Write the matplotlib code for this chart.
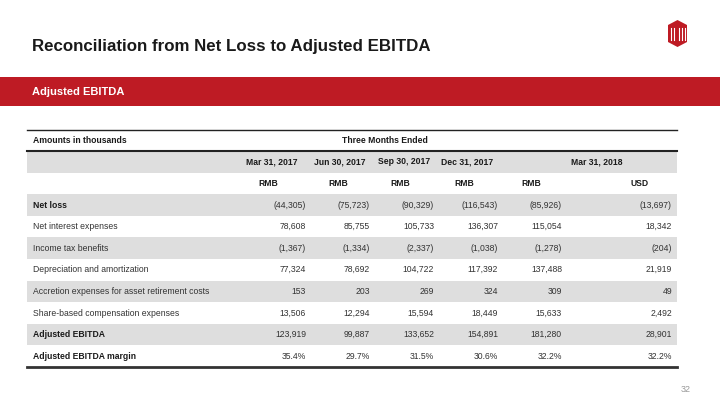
import matplotlib
matplotlib.use("Agg")
import matplotlib.pyplot as plt
from matplotlib.patches import Rectangle, Polygon

plt.rcParams['font.family'] = ['Liberation Sans', 'DejaVu Sans']

RED = '#BE1B24'
GRAY_ROW = '#DEDEDE'
TXT = '#1a1a1a'

# table data
periods = ["Mar 31, 2017", "Jun 30, 2017", "Sep 30, 2017", "Dec 31, 2017", "Mar 31, 2018"]
currencies = ["RMB", "RMB", "RMB", "RMB", "RMB", "USD"]
row_labels = ["Net loss", "Net interest expenses", "Income tax benefits",
              "Depreciation and amortization", "Accretion expenses for asset retirement costs",
              "Share-based compensation expenses", "Adjusted EBITDA"]
bold_rows = ["Net loss", "Adjusted EBITDA", "Adjusted EBITDA margin"]

mar17 = [-44305, 78608, -1367, 77324, 153, 13506, 123919]
jun17 = [-75723, 85755, -1334, 78692, 203, 12294, 99887]
sep17 = [-90329, 105733, -2337, 104722, 269, 15594, 133652]
dec17 = [-116543, 136307, -1038, 117392, 324, 18449, 154891]
mar18_rmb = [-85926, 115054, -1278, 137488, 309, 15633, 181280]
mar18_usd = [-13697, 18342, -204, 21919, 49, 2492, 28901]
margin = [35.4, 29.7, 31.5, 30.6, 32.2, 32.2]

columns = [mar17, jun17, sep17, dec17, mar18_rmb, mar18_usd]


def fmt(v):
    s = f"{abs(v):,}"
    return f"({s})" if v < 0 else s


fig = plt.figure(figsize=(7.2, 4.05), dpi=100)
ax = fig.add_axes([0, 0, 1, 1])
ax.set_xlim(0, 720)
ax.set_ylim(405, 0)
ax.axis('off')

# title + band
ax.text(32, 46, "Reconciliation from Net Loss to Adjusted EBITDA", fontsize=12.2,
        fontweight='bold', color=TXT, va='center', ha='left')
ax.add_patch(Rectangle((0, 77), 720, 29, color=RED, lw=0))
ax.text(32, 92, "Adjusted EBITDA", fontsize=8, fontweight='bold', color='white',
        va='center', ha='left')

# logo (rough)
hexagon = [(677.5, 20), (687, 25), (687, 42), (677.5, 47), (668, 42), (668, 25)]
ax.add_patch(Polygon(hexagon, closed=True, color=RED, lw=0))
for lx in [671, 674, 679, 682, 685]:
    ax.plot([lx, lx], [28, 40], color='white', lw=0.8)

# table layout
x0, x1 = 27, 677
top = 130
head_h = 21
row_h = 21.6
val_right = [306, 370, 434, 498, 562, 672]
period_ctr = [272, 340, 404, 467, 597]
cur_ctr = [268, 338, 400, 464, 531, 640]
label_x = 33
FS = 6.2

n_rows = 2 + len(row_labels) + 1
y_start = top + head_h
for i in range(n_rows):
    y = y_start + i * row_h
    if i % 2 == 0:
        ax.add_patch(Rectangle((x0, y), x1 - x0, row_h, color=GRAY_ROW, lw=0))

ax.plot([x0, x1], [top, top], color='#222222', lw=1.0)
ax.plot([x0, x1], [y_start, y_start], color='#222222', lw=1.5)
y_end = y_start + n_rows * row_h
ax.plot([x0, x1], [y_end, y_end], color='#333333', lw=2.0)

ax.text(label_x, top + head_h / 2, "Amounts in thousands", fontsize=FS,
        fontweight='bold', color=TXT, va='center', ha='left')
ax.text(385, top + head_h / 2, "Three Months Ended", fontsize=FS,
        fontweight='bold', color=TXT, va='center', ha='center')

yc = y_start + row_h / 2
for p, cx in zip(periods, period_ctr):
    ax.text(cx, yc, p, fontsize=FS, fontweight='bold', color=TXT, va='center', ha='center')
yc = y_start + row_h * 1.5
for c, cx in zip(currencies, cur_ctr):
    ax.text(cx, yc, c, fontsize=FS, fontweight='bold', color=TXT, va='center', ha='center')

for r, lab in enumerate(row_labels):
    yc = y_start + row_h * (2 + r + 0.5)
    wt = 'bold' if lab in bold_rows else 'normal'
    col = TXT if wt == 'bold' else '#333333'
    ax.text(label_x, yc, lab, fontsize=FS, fontweight=wt, color=col, va='center', ha='left')
    for vals, xr in zip(columns, val_right):
        ax.text(xr, yc, fmt(vals[r]), fontsize=FS, color='#333333', va='center', ha='right')

yc = y_start + row_h * (2 + len(row_labels) + 0.5)
ax.text(label_x, yc, "Adjusted EBITDA margin", fontsize=FS, fontweight='bold',
        color=TXT, va='center', ha='left')
for m, xr in zip(margin, val_right):
    ax.text(xr, yc, f"{m:.1f}%", fontsize=FS, color='#333333', va='center', ha='right')

ax.text(686, 389, "32", fontsize=6.5, color='#999999', va='center', ha='center')

fig.savefig("out.png", dpi=100)
